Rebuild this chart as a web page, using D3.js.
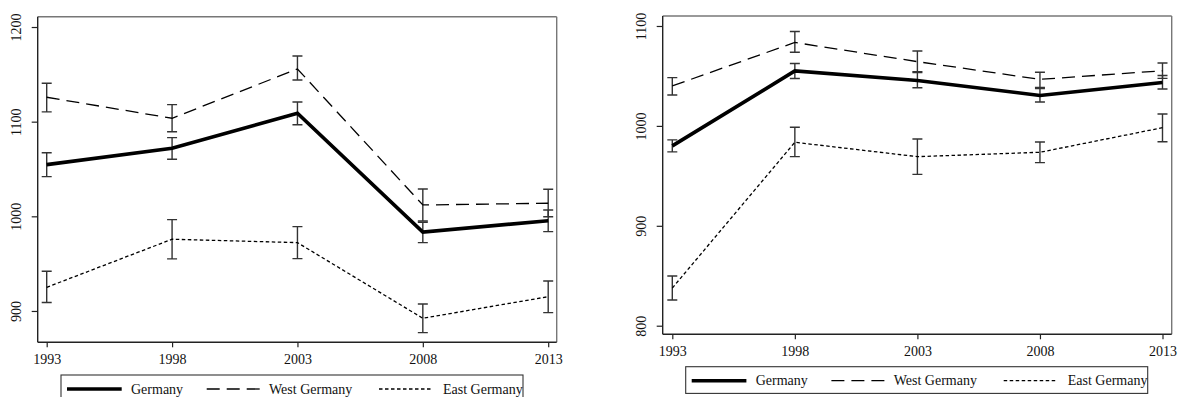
<!DOCTYPE html>
<html>
<head>
<meta charset="utf-8">
<script src="https://cdn.jsdelivr.net/npm/d3@7"></script>
<style>
  html, body { margin: 0; padding: 0; background: #fff; }
  svg { display: block; }
  text { font-family: "Liberation Serif", "Times New Roman", serif; fill: #111; }
</style>
</head>
<body>
<svg id="chart" width="1181" height="397"></svg>
<script>
// ---------- DATA ----------
const years = [1993, 1998, 2003, 2008, 2013];
const seriesNames = ["Germany", "West Germany", "East Germany"];

// Left panel
const leftYTicks = [900, 1000, 1100, 1200];
const leftGermany   = [1054.6, 1071.9, 1108.9, 983.3, 995.4];
const leftGermanyLo = [1041.9, 1060.3, 1096.8, 972.2, 983.8];
const leftGermanyHi = [1067.2, 1083.1, 1120.8, 993.7, 1006.7];
const leftWest   = [1125.8, 1103.6, 1155.7, 1012.0, 1013.8];
const leftWestLo = [1110.3, 1089.4, 1144.0, 995.1, 999.6];
const leftWestHi = [1140.6, 1118.0, 1169.4, 1028.9, 1028.6];
const leftEast   = [925.0, 975.8, 972.2, 892.3, 915.1];
const leftEastLo = [909.0, 955.0, 955.3, 877.1, 898.2];
const leftEastHi = [942.0, 996.5, 989.1, 907.4, 931.7];

// Right panel
const rightYTicks = [800, 900, 1000, 1100];
const rightGermany   = [980.0, 1055.0, 1045.5, 1030.5, 1043.5];
const rightGermanyLo = [974.0, 1047.5, 1038.2, 1023.9, 1037.0];
const rightGermanyHi = [986.0, 1062.5, 1053.5, 1037.5, 1050.5];
const rightWest   = [1040.0, 1083.5, 1064.3, 1046.6, 1055.2];
const rightWestLo = [1031.0, 1073.7, 1054.3, 1038.6, 1047.6];
const rightWestHi = [1048.3, 1094.5, 1075.0, 1053.7, 1063.0];
const rightEast   = [837.7, 983.6, 969.2, 973.6, 998.2];
const rightEastLo = [825.7, 969.2, 951.5, 963.2, 984.2];
const rightEastHi = [849.7, 998.6, 986.9, 983.9, 1011.9];

// ---------- STYLES ----------
const styles = [
  { width: 3.6, dash: null },
  { width: 1.3, dash: "13,7" },
  { width: 1.3, dash: "3.5,2.5" }
];

const svg = d3.select("#chart");

function drawPanel(cfg) {
  const g = svg.append("g");
  const x = d3.scaleLinear().domain([1993, 2013]).range([cfg.xStart, cfg.xEnd]);
  const y = d3.scaleLinear().domain(cfg.yDomain).range([cfg.fy1, cfg.fy0]);

  // frame (top & right lighter)
  g.append("line").attr("x1", cfg.fx0).attr("x2", cfg.fx1).attr("y1", cfg.fy0).attr("y2", cfg.fy0)
    .attr("stroke", "#777").attr("stroke-width", 1.4);
  g.append("line").attr("x1", cfg.fx1).attr("x2", cfg.fx1).attr("y1", cfg.fy0).attr("y2", cfg.fy1)
    .attr("stroke", "#777").attr("stroke-width", 1.4);

  // y axis
  const yAxis = d3.axisLeft(y).tickValues(cfg.yTicks).tickSize(6).tickPadding(0).tickFormat(d3.format("d"));
  const ya = g.append("g").attr("transform", `translate(${cfg.fx0},0)`).call(yAxis);
  ya.select(".domain").attr("d", `M0,${cfg.fy0}V${cfg.fy1}`).attr("stroke", "#222").attr("stroke-width", 1.4);
  ya.selectAll(".tick line").attr("stroke", "#222").attr("stroke-width", 1.2);
  ya.selectAll(".tick text")
    .attr("x", 0).attr("dy", null)
    .attr("transform", "translate(-21.7,0) rotate(-90)")
    .attr("text-anchor", "middle").attr("dominant-baseline", "central")
    .style("font-size", "14px").style("font-family", "Liberation Serif").attr("fill", "#111");

  // x axis
  const xAxis = d3.axisBottom(x).tickValues(years).tickSize(5).tickPadding(0).tickFormat(d3.format("d"));
  const xa = g.append("g").attr("transform", `translate(0,${cfg.fy1})`).call(xAxis);
  xa.select(".domain").attr("d", `M${cfg.fx0},0H${cfg.fx1}`).attr("stroke", "#222").attr("stroke-width", 1.4);
  xa.selectAll(".tick line").attr("stroke", "#222").attr("stroke-width", 1.2);
  xa.selectAll(".tick text")
    .attr("y", 17.7).attr("dy", null)
    .attr("dominant-baseline", "central")
    .style("font-size", "14px").style("font-family", "Liberation Serif").attr("fill", "#111");

  // error bars
  cfg.series.forEach(s => {
    years.forEach((yr, i) => {
      const cx = x(yr);
      const lo = y(s.lo[i]), hi = y(s.hi[i]);
      g.append("path")
        .attr("d", `M${cx - 5},${hi}H${cx + 5}M${cx},${hi}V${lo}M${cx - 5},${lo}H${cx + 5}`)
        .attr("fill", "none").attr("stroke", "#333").attr("stroke-width", 1.4);
    });
  });

  // lines
  const line = d3.line().x((d, i) => x(years[i])).y(d => y(d));
  cfg.series.forEach((s, k) => {
    g.append("path").datum(s.v).attr("d", line)
      .attr("fill", "none").attr("stroke", "#000")
      .attr("stroke-width", styles[k].width)
      .attr("stroke-dasharray", styles[k].dash)
      .attr("stroke-linejoin", "miter");
  });

  // legend
  const lg = g.append("g").attr("transform", `translate(${cfg.lx},${cfg.ly})`);
  lg.append("rect").attr("x", 0).attr("y", 0).attr("width", 462).attr("height", 26.7)
    .attr("fill", "#fff").attr("stroke", "#333").attr("stroke-width", 1.1);
  const keyPos = [[6, 60.7, 70], [145.7, 199, 208], [318, 371.5, 382]];
  seriesNames.forEach((nm, k) => {
    lg.append("line").attr("x1", keyPos[k][0]).attr("x2", keyPos[k][1])
      .attr("y1", 14).attr("y2", 14)
      .attr("stroke", "#000").attr("stroke-width", styles[k].width)
      .attr("stroke-dasharray", styles[k].dash);
    lg.append("text").attr("x", keyPos[k][2]).attr("y", 14)
      .attr("dominant-baseline", "central")
      .style("font-size", "14px").style("font-family", "Liberation Serif").attr("fill", "#111")
      .text(nm);
  });
}

drawPanel({
  fx0: 37.7, fx1: 556.7, fy0: 16.7, fy1: 342.3,
  xStart: 46.7, xEnd: 548.2,
  yDomain: [866.9, 1210.9],
  yTicks: leftYTicks,
  lx: 61, ly: 375,
  series: [
    { v: leftGermany, lo: leftGermanyLo, hi: leftGermanyHi },
    { v: leftWest, lo: leftWestLo, hi: leftWestHi },
    { v: leftEast, lo: leftEastLo, hi: leftEastHi }
  ]
});

drawPanel({
  fx0: 662.7, fx1: 1171.7, fy0: 16, fy1: 334.3,
  xStart: 672.3, xEnd: 1162.5,
  yDomain: [791.4, 1110],
  yTicks: rightYTicks,
  lx: 685.7, ly: 366.7,
  series: [
    { v: rightGermany, lo: rightGermanyLo, hi: rightGermanyHi },
    { v: rightWest, lo: rightWestLo, hi: rightWestHi },
    { v: rightEast, lo: rightEastLo, hi: rightEastHi }
  ]
});
</script>
</body>
</html>
